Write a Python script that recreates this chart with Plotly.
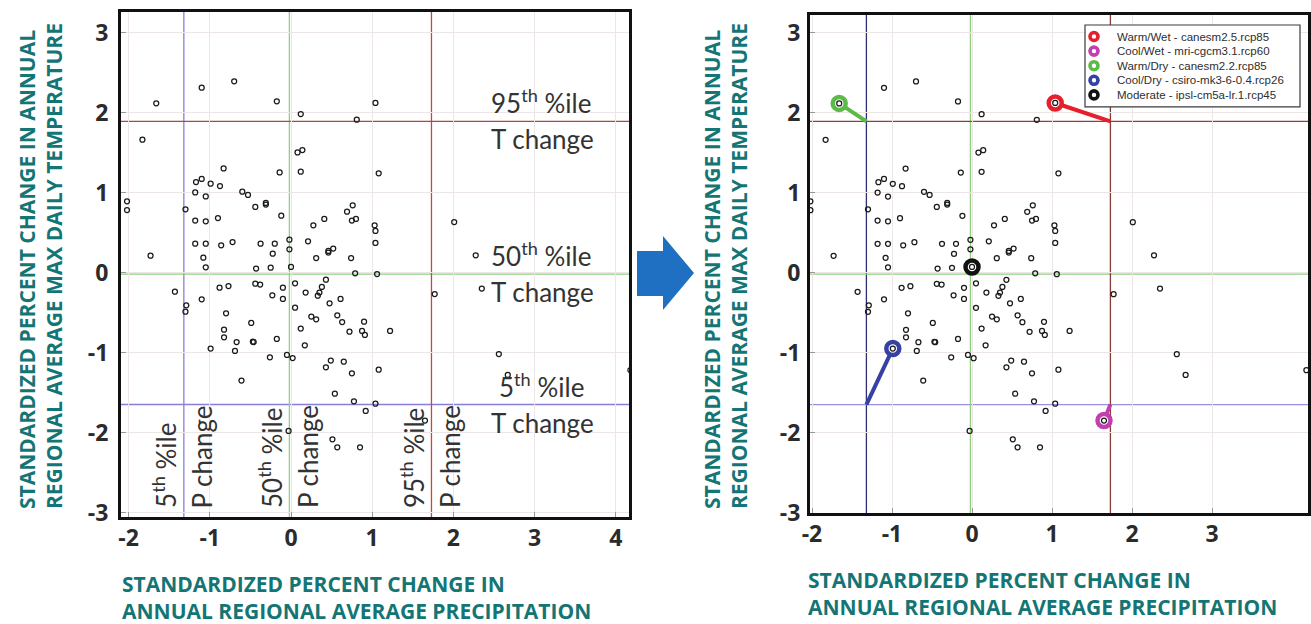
import plotly.graph_objects as go

W, H = 1311, 624

# ---------------- data ----------------
precip_change = [
    -1.66, -1.10, -0.70, -0.175, 0.12, 0.81, -1.83, 0.08, 0.14, -0.83, -0.14, 0.12,
    -1.17, -1.10, -0.99, -0.875, -1.18, -1.05, -0.60, -0.53, -2.02, -2.02, -1.30,
    -0.44, -0.31, -0.31, -0.12, 0.275, 0.41, 0.69, 0.76, 0.75, 0.80, -1.18, -1.05,
    -0.90, -1.18, -1.05, -0.86, -0.72, -0.375, -0.20, -0.02, -0.02, -0.225, 0.21,
    0.31, 0.46, 0.46, 0.52, 0.74, -1.73, -1.08, -1.05, -0.43, -0.25, 0.00,
    0.79, -1.43, -1.10, -1.29, -1.30, -0.88, -0.77, -0.44, -0.38, -0.10, -0.10,
    -0.23, 0.05, 0.18, 0.05, 0.33, 0.35, 0.38, 0.43, 0.475, 0.61, -0.80, -0.49,
    -0.825, -0.825, -0.67, -0.69, -0.47, -0.46, -0.175, -0.26, -0.05, 0.02, -0.61,
    0.25, 0.31, 0.12, 0.17, 0.57, 0.63, 0.72, 0.49, 0.43, 0.65, 0.75, 0.54, 0.775,
    -0.03, 0.51, 0.57, 0.85, -0.99,
    1.04, 1.08, 1.03, 1.04, 1.04, 1.06, 2.01, 2.275, 2.35, 1.77, 0.90, 0.875,
    0.91, 1.22, 1.08, 2.56, 2.67, 4.18, 1.04, 0.92, 1.65,
]
temp_change = [
    2.115, 2.31, 2.39, 2.14, 1.98, 1.91, 1.66, 1.50, 1.53, 1.30, 1.25, 1.26,
    1.13, 1.17, 1.11, 1.08, 1.00, 0.95, 1.01, 0.97, 0.89, 0.78, 0.79,
    0.82, 0.87, 0.85, 0.71, 0.59, 0.67, 0.76, 0.84, 0.65, 0.67, 0.65, 0.64,
    0.68, 0.36, 0.36, 0.34, 0.38, 0.36, 0.36, 0.41, 0.29, 0.235, 0.39,
    0.18, 0.25, 0.27, 0.30, 0.18, 0.21, 0.185, 0.065, 0.05, 0.06, 0.07,
    -0.01, -0.24, -0.335, -0.41, -0.49, -0.19, -0.17, -0.14, -0.15, -0.19, -0.33,
    -0.285, -0.135, -0.25, -0.44, -0.29, -0.25, -0.18, -0.09, -0.385, -0.33, -0.51, -0.63,
    -0.715, -0.81, -0.87, -0.98, -0.865, -0.87, -0.83, -1.06, -1.03, -1.07, -1.35,
    -0.55, -0.585, -0.70, -0.91, -0.535, -0.62, -0.74, -1.10, -1.185, -1.115, -1.26, -1.515, -1.61,
    -1.98, -2.085, -2.185, -2.185, -0.95,
    2.12, 1.24, 0.59, 0.52, 0.37, -0.02, 0.63, 0.215, -0.20, -0.27, -0.615, -0.73,
    -0.78, -0.73, -1.215, -1.02, -1.28, -1.22, -1.64, -1.73, -1.85,
]

pct_labels = ["5th", "50th", "95th"]
p_pct_values = [-1.32, -0.02, 1.73]
t_pct_values = [-1.65, -0.02, 1.89]

scenario_names = [
    "Warm/Wet - canesm2.5.rcp85",
    "Cool/Wet - mri-cgcm3.1.rcp60",
    "Warm/Dry - canesm2.2.rcp85",
    "Cool/Dry - csiro-mk3-6-0.4.rcp26",
    "Moderate - ipsl-cm5a-lr.1.rcp45",
]
scenario_p = [1.04, 1.65, -1.66, -0.99, 0.0]
scenario_t = [2.12, -1.85, 2.115, -0.95, 0.07]
scenario_p_pct = [2, 2, 0, 0, 1]   # index into p_pct_values
scenario_t_pct = [2, 0, 2, 0, 1]   # index into t_pct_values
scenario_colors = ["#e3202b", "#c23fae", "#5cba48", "#3641a6", "#111111"]

x_ticks_left = [-2, -1, 0, 1, 2, 3, 4]
x_ticks_right = [-2, -1, 0, 1, 2, 3]
y_ticks = [-3, -2, -1, 0, 1, 2, 3]

TEAL = "#147575"
TICKFONT = dict(family="Open Sans", size=23, color="#2b2b2b", weight="bold")


def px(x):
    return x / W


def py(y):
    return 1 - y / H


def tick_text(vals):
    return [str(v) for v in vals]


fig = go.Figure()

# right panel highlight lines (scenario -> percentile corner)
for i in range(len(scenario_names)):
    if scenario_p_pct[i] == 1:
        continue
    fig.add_trace(go.Scatter(
        x=[scenario_p[i], p_pct_values[scenario_p_pct[i]]],
        y=[scenario_t[i], t_pct_values[scenario_t_pct[i]]],
        mode="lines", line=dict(color=scenario_colors[i], width=4),
        xaxis="x2", yaxis="y2", showlegend=False, hoverinfo="skip"))

# right panel highlight rings
fig.add_trace(go.Scatter(
    x=scenario_p, y=scenario_t, mode="markers",
    marker=dict(symbol="circle", size=13, color="white",
                line=dict(color=scenario_colors, width=4.5)),
    xaxis="x2", yaxis="y2", showlegend=False, hoverinfo="skip"))

# all model points on both panels
for xa, ya in (("x", "y"), ("x2", "y2")):
    fig.add_trace(go.Scatter(
        x=precip_change, y=temp_change, mode="markers",
        marker=dict(symbol="circle-open", size=5, color="#1a1a1a",
                    line=dict(width=1.25)),
        xaxis=xa, yaxis=ya, showlegend=False, hoverinfo="skip"))

# ---------------- percentile lines ----------------
left_cols = {"p": ["#8a7fd6", "#8fd07f", "#c9463f"], "t": ["#8a7fd6", "#8fd07f", "#b8423c"]}
right_cols = {"p": ["#2e2e70", "#8fd07f", "#8a3a36"], "t": ["#9a8fe0", "#8fd07f", "#9e3a36"]}
shapes = []
for xa, ya, cols in (("x", "y", left_cols), ("x2", "y2", right_cols)):
    for k in range(3):
        shapes.append(dict(type="line", xref=xa, yref=ya + " domain",
                           x0=p_pct_values[k], x1=p_pct_values[k], y0=0, y1=1,
                           line=dict(color=cols["p"][k], width=1.3), layer="below"))
        shapes.append(dict(type="line", xref=xa + " domain", yref=ya,
                           x0=0, x1=1, y0=t_pct_values[k], y1=t_pct_values[k],
                           line=dict(color=cols["t"][k], width=1.3), layer="below"))

# blue arrow between panels
arrow_pts = [(637, 251), (663, 251), (663, 236), (694, 273), (663, 310), (663, 296), (637, 296)]
path = "M " + " L ".join(f"{px(a):.5f},{py(b):.5f}" for a, b in arrow_pts) + " Z"
shapes.append(dict(type="path", xref="paper", yref="paper", path=path,
                   fillcolor="#1f6fc2", line=dict(width=0)))

ann = []

# ---------------- legend box (right panel) ----------------
LEG_X0, LEG_X1, LEG_Y0 = 1085, 1300, 25
LEG_ROW0, LEG_STEP = 36.5, 14.6
LEG_ICON_X, LEG_TEXT_X, LEG_R = 1094, 1115, 4.0
shapes.append(dict(type="rect", xref="paper", yref="paper",
                   x0=px(LEG_X0), x1=px(LEG_X1), y0=py(LEG_Y0),
                   y1=py(LEG_ROW0 + LEG_STEP * (len(scenario_names) - 1) + 12),
                   fillcolor="white", line=dict(color="#3a3a3a", width=1.2)))
for i, name in enumerate(scenario_names):
    cy = LEG_ROW0 + LEG_STEP * i
    shapes.append(dict(type="circle", xref="paper", yref="paper",
                       x0=px(LEG_ICON_X - LEG_R), x1=px(LEG_ICON_X + LEG_R),
                       y0=py(cy - LEG_R), y1=py(cy + LEG_R),
                       fillcolor="white", line=dict(color=scenario_colors[i], width=3.6)))
    ann.append(dict(xref="paper", yref="paper", x=px(LEG_TEXT_X), y=py(cy),
                    xanchor="left", yanchor="middle", text=name, showarrow=False,
                    font=dict(family="Liberation Sans", size=11.5, color="#2e2e2e")))

# ---------------- percentile annotations (left panel) ----------------
PCTFONT = dict(family="Lato", size=26, color="#333333")
t_x = [2.54, 2.44, 2.44]
for k in range(3):
    lab = f"{pct_labels[k][:-2]}<sup>{pct_labels[k][-2:]}</sup> %ile"
    ann.append(dict(xref="x", yref="y", x=t_x[k], y=t_pct_values[k], xanchor="left", yanchor="bottom",
                    text=lab, showarrow=False, font=PCTFONT))
    ann.append(dict(xref="x", yref="y", x=2.44, y=t_pct_values[k], xanchor="left", yanchor="top",
                    text="T change", showarrow=False, font=PCTFONT))
    ann.append(dict(xref="x", yref="y", x=p_pct_values[k], y=-2.97, xanchor="right", yanchor="bottom",
                    text=lab, textangle=-90, showarrow=False, font=PCTFONT))
    ann.append(dict(xref="x", yref="y", x=p_pct_values[k], y=-2.97, xanchor="left", yanchor="bottom",
                    text="P change", textangle=-90, showarrow=False, font=PCTFONT))

# ---------------- axis titles ----------------
TITLEFONT = dict(family="Open Sans", size=21, color=TEAL, weight="bold")
ytitle = "STANDARDIZED PERCENT CHANGE IN ANNUAL<br>REGIONAL AVERAGE MAX DAILY TEMPERATURE"
xtitle = "STANDARDIZED PERCENT CHANGE IN<br>ANNUAL REGIONAL AVERAGE PRECIPITATION"
for xc in (40, 725):
    ann.append(dict(xref="paper", yref="paper", x=px(xc), y=py(511), xanchor="center", yanchor="bottom",
                    text=ytitle, textangle=-90, align="left", showarrow=False, font=TITLEFONT))
for xl, yt in ((120, 568), (806, 564)):
    ann.append(dict(xref="paper", yref="paper", x=px(xl), y=py(yt), xanchor="left", yanchor="top",
                    text=xtitle, align="left", showarrow=False, font=TITLEFONT))

axis_common = dict(showgrid=True, gridcolor="#ece6e6", gridwidth=1, zeroline=False,
                   showline=True, mirror=True, linecolor="#111111", linewidth=3,
                   ticks="inside", ticklen=5, tickcolor="#999999", tickwidth=1,
                   tickfont=TICKFONT, automargin=False)

fig.update_layout(
    width=W, height=H,
    margin=dict(l=0, r=0, t=0, b=0, pad=0),
    paper_bgcolor="white", plot_bgcolor="white",
    showlegend=False,
    xaxis=dict(domain=[px(121), px(629)], range=[-2.094, 4.163], tickvals=x_ticks_left,
               ticktext=tick_text(x_ticks_left), anchor="y", ticklabelstandoff=-2, **axis_common),
    yaxis=dict(domain=[py(517), py(12)], range=[-3.056, 3.256], tickvals=y_ticks,
               ticktext=tick_text(y_ticks), anchor="x", ticklabelstandoff=5, **axis_common),
    xaxis2=dict(domain=[px(810), px(1308)], range=[-2.025, 4.2], tickvals=x_ticks_right,
                ticktext=tick_text(x_ticks_right), anchor="y2", ticklabelstandoff=-2, **axis_common),
    yaxis2=dict(domain=[py(513), py(15)], range=[-3.006, 3.22], tickvals=y_ticks,
                ticktext=tick_text(y_ticks), anchor="x2", ticklabelstandoff=2, **axis_common),
    shapes=shapes,
    annotations=ann,
)

fig.write_html("out.html", config={"displayModeBar": False},
               post_script="document.body.style.margin='0px';document.body.style.padding='0px';")
